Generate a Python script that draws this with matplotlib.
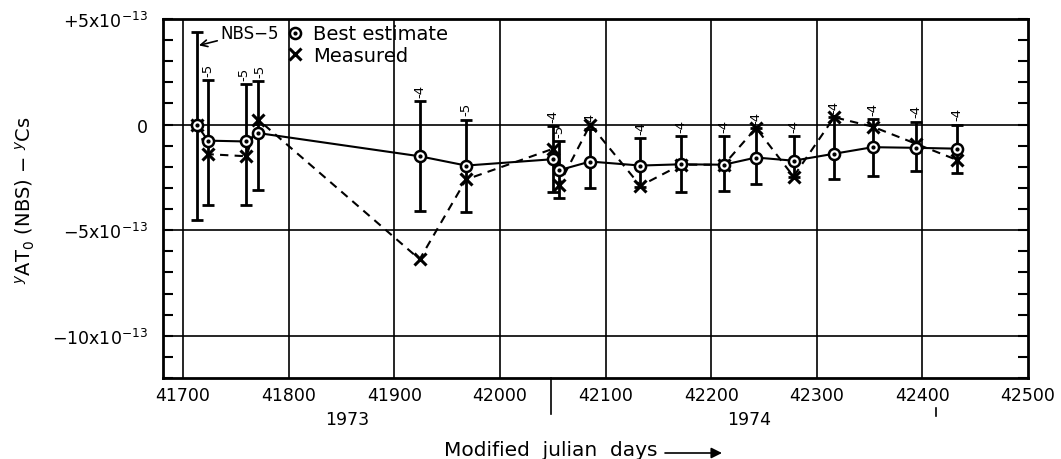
import matplotlib
matplotlib.use("Agg")
import matplotlib.pyplot as plt
from matplotlib.lines import Line2D
import numpy as np

# MJD of each comparison, values in units of 1e-13
days = [41713, 41723.5, 41760, 41771, 41924, 41968, 42050, 42056, 42085.5,
        42133, 42171.5, 42212, 42242.5, 42278, 42316.5, 42353, 42393.5, 42432.5]
best = [0.0, -0.76, -0.80, -0.40, -1.50, -1.94, -1.64, -2.16, -1.75,
        -1.94, -1.88, -1.90, -1.56, -1.71, -1.38, -1.07, -1.10, -1.14]
measured = [0.0, -1.40, -1.50, 0.24, -6.38, -2.60, -1.15, -2.85, 0.0,
            -2.90, -1.90, -1.90, -0.16, -2.46, 0.35, -0.10, -0.90, -1.67]
err_hi = [4.4, 2.1, 1.9, 2.06, 1.1, 0.24, -0.08, -0.78, -0.20,
          -0.62, -0.56, -0.56, -0.16, -0.56, 0.35, 0.27, 0.14, 0.0]
err_lo = [-4.5, -3.8, -3.8, -3.1, -4.1, -4.16, -3.2, -3.48, -3.0,
          -2.95, -3.2, -3.13, -2.83, -2.5, -2.57, -2.42, -2.2, -2.3]
tags = [None, "-5", "-5", "-5", "-4", "-5", "-4", "-5", "-4",
        "-4", "-4", "-4", "-4", "-4", "-4", "-4", "-4", "-4"]

XTICKS = [41700, 41800, 41900, 42000, 42100, 42200, 42300, 42400, 42500]
YTICKS = [5, 0, -5, -10]
YTICK_LABELS = ["+5x10$^{-13}$", "0", "\u22125x10$^{-13}$", "\u221210x10$^{-13}$"]
YEAR_STARTS = [42048, 42413]
YEARS = [("1973", 41855), ("1974", 42236)]

FS = 12.5
# small sideways nudges (points) so the two close "-5" tags don't collide
TAG_NUDGE = {2: -2.0, 3: 1.5}

fig = plt.figure(figsize=(10.61, 4.60), dpi=100)
ax = fig.add_axes([163 / 1061, 1 - 379 / 460, (1028 - 163) / 1061, (379 - 20) / 460])
ax.set_xlim(41681, 42500)
ax.set_ylim(-12, 5)

# grid
for x in XTICKS[:-1]:
    ax.axvline(x, color="k", lw=1.2, zorder=1)
for y in YTICKS[1:]:
    ax.axhline(y, color="k", lw=1.2, zorder=1)

best_a = np.array(best)
lo = best_a - np.array(err_lo)
hi = np.array(err_hi) - best_a
ax.errorbar(days, best, yerr=[lo, hi], fmt="none", ecolor="k", elinewidth=2,
            capsize=4, capthick=2, zorder=3)

ax.plot(days, measured, color="k", lw=1.5, ls=(0, (4, 3)), zorder=2)
ax.plot(days, best, color="k", lw=1.5, zorder=2)
ax.plot(days, measured, ls="none", marker="x", ms=8, mew=2.2, color="k", zorder=5)
ax.plot(days, best, ls="none", marker="o", ms=8, mfc="white", mec="k", mew=1.8, zorder=6)
ax.plot(days, best, ls="none", marker="o", ms=2, color="k", zorder=7)

for i, (d, top, t) in enumerate(zip(days, err_hi, tags)):
    if t is None:
        continue
    ax.annotate(t, (d, top), xytext=(TAG_NUDGE.get(i, 0), 3), textcoords="offset points",
                rotation=90, ha="center", va="bottom", fontsize=9.5)

ax.annotate("NBS\u22125", xy=(days[0] + 2, 3.75), xytext=(41735, 4.35),
            fontsize=12, ha="left", va="center",
            arrowprops=dict(arrowstyle="->", color="k", lw=1.2, shrinkA=0, shrinkB=0))

# axes styling
for s in ax.spines.values():
    s.set_linewidth(2)
ax.set_xticks(XTICKS)
ax.set_xticklabels([str(x) for x in XTICKS], fontsize=FS)
ax.tick_params(axis="x", length=0, pad=6)
ax.set_yticks(YTICKS)
ax.set_yticklabels(YTICK_LABELS, fontsize=FS)
ax.set_yticks(np.arange(-12, 6, 1), minor=True)
ax.tick_params(axis="y", which="both", direction="in", length=7, width=1.5,
               left=True, right=True, pad=11)

# year boundaries and labels
ax.axvline(YEAR_STARTS[0], ymin=-0.1, ymax=0, color="k", lw=1.2, clip_on=False)
ax.axvline(YEAR_STARTS[1], ymin=-0.106, ymax=-0.084, color="k", lw=1.2, clip_on=False)
for txt, d in YEARS:
    ax.text(d, -0.115, txt, transform=ax.get_xaxis_transform(), ha="center",
            va="center", fontsize=FS)

# legend
h_best = (Line2D([], [], ls="none", marker="o", ms=8, mfc="white", mec="k", mew=1.8),
          Line2D([], [], ls="none", marker="o", ms=2, color="k"))
h_meas = Line2D([], [], ls="none", marker="x", ms=8, mew=2.2, color="k")
ax.legend([h_best, h_meas], ["Best estimate", "Measured"], loc="upper left",
          bbox_to_anchor=(0.1416, 0.985), frameon=False, fontsize=14,
          handlelength=1.0, handletextpad=0.4, borderpad=0, borderaxespad=0,
          labelspacing=0.15)

fig.text(25 / 1061, 0.565, "${}^{y}$AT$_{0}$ (NBS) $-$ ${}^{y}$Cs", rotation=90,
         ha="center", va="center", fontsize=14)
fig.text(551 / 1061, 1 - 451 / 460, "Modified  julian  days", ha="center",
         va="center", fontsize=14.5)
ax.annotate("", xy=(722 / 1061, 1 - 454 / 460), xytext=(665 / 1061, 1 - 454 / 460),
            xycoords="figure fraction", textcoords="figure fraction",
            arrowprops=dict(arrowstyle="-|>", color="k", lw=1.2,
                            mutation_scale=16, shrinkA=0, shrinkB=0))

fig.savefig("out.png", dpi=100)
